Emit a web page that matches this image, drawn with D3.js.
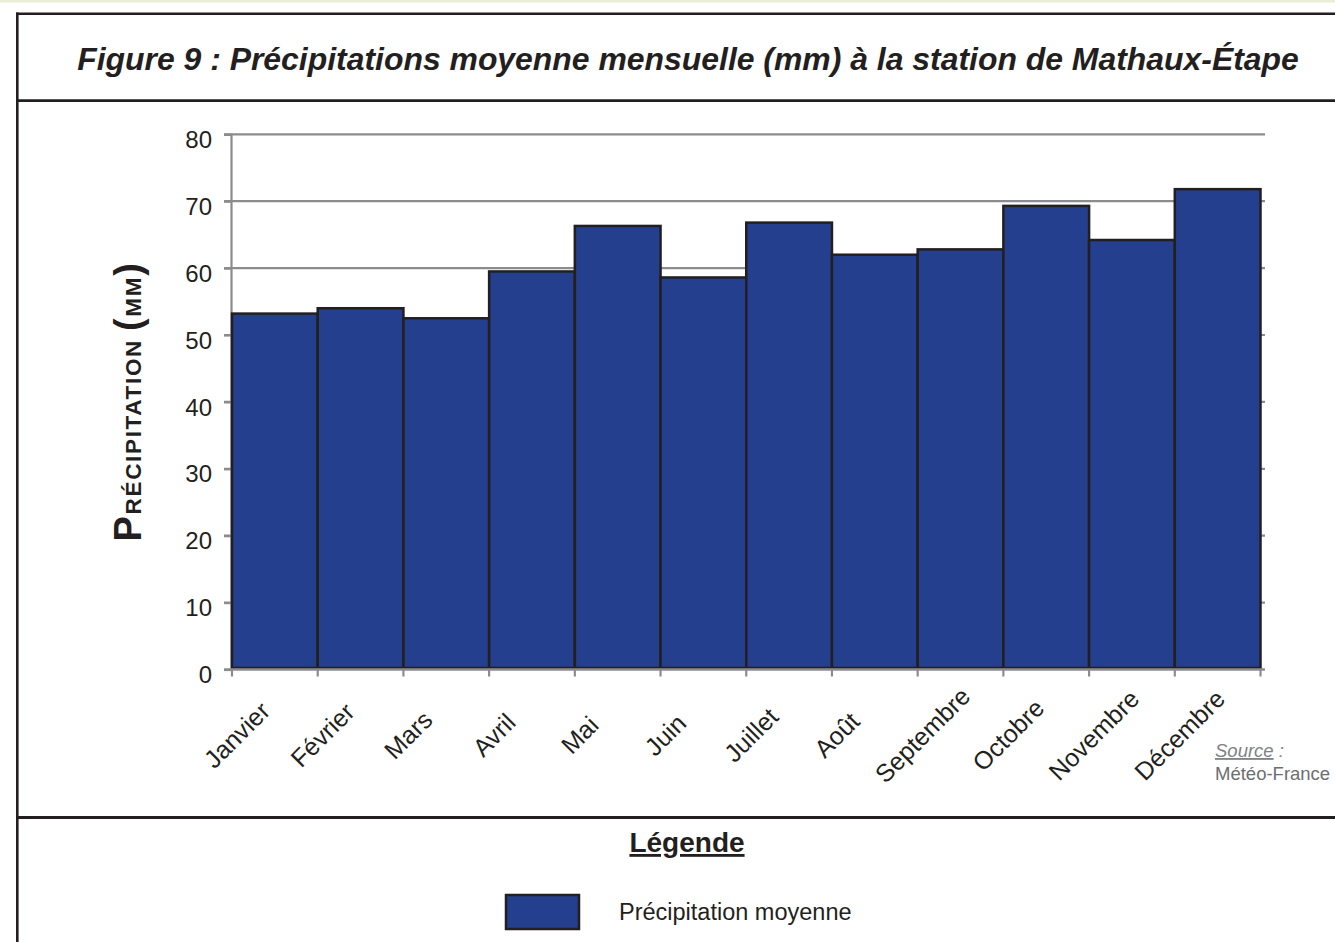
<!DOCTYPE html>
<html>
<head>
<meta charset="utf-8">
<script src="https://cdn.jsdelivr.net/npm/d3@7"></script>
<style>
  html, body { margin: 0; padding: 0; background: #ffffff; }
  svg { display: block; }
  text { font-family: "Liberation Sans", Arial, Helvetica, sans-serif; }
</style>
</head>
<body>
<svg id="chart" width="1335" height="942"></svg>
<script>
// ---- Data ----
const months = ["Janvier", "Février", "Mars", "Avril", "Mai", "Juin", "Juillet", "Août", "Septembre", "Octobre", "Novembre", "Décembre"];
const precipitation = [53.2, 54.0, 52.5, 59.5, 66.3, 58.6, 66.8, 62.0, 62.8, 69.3, 64.2, 71.8];
const yTicks = [0, 10, 20, 30, 40, 50, 60, 70, 80];
const titleText = "Figure 9 : Précipitations moyenne mensuelle (mm) à la station de Mathaux-Étape";
const legendLabels = ["Précipitation moyenne"];

const BAR_FILL = "#243f8e";
const DARK = "#231f20";
const GRID = "#8c8c8e";

const svg = d3.select("#chart");

// ---- Frame ----
svg.append("rect").attr("x", 0).attr("y", 0).attr("width", 1335).attr("height", 2.5).attr("fill", "#eaedd8");
svg.append("line").attr("x1", 16).attr("x2", 1335).attr("y1", 13.8).attr("y2", 13.8).attr("stroke", DARK).attr("stroke-width", 2.6);
svg.append("line").attr("x1", 17.3).attr("x2", 17.3).attr("y1", 12.5).attr("y2", 942).attr("stroke", DARK).attr("stroke-width", 2.6);
svg.append("line").attr("x1", 16).attr("x2", 1335).attr("y1", 100.6).attr("y2", 100.6).attr("stroke", DARK).attr("stroke-width", 2.6);
svg.append("line").attr("x1", 16).attr("x2", 1335).attr("y1", 817.5).attr("y2", 817.5).attr("stroke", DARK).attr("stroke-width", 3);

// ---- Title ----
const title = svg.append("text")
  .attr("x", 688).attr("y", 70)
  .attr("text-anchor", "middle")
  .style("fill", DARK)
  .style("font-weight", "bold").style("font-style", "italic")
  .style("font-size", "30px")
  .text(titleText);
{
  const len = title.node().getComputedTextLength();
  title.style("font-size", (30 * 1222 / len) + "px");
}

// ---- Scales ----
const x = d3.scaleBand().domain(months).range([232, 1260.5]).padding(0);
const y = d3.scaleLinear().domain([0, 80]).range([669.5, 134.3]);

// ---- Gridlines ----
svg.append("g").selectAll("line").data(yTicks.filter(d => d > 0)).join("line")
  .attr("x1", 224).attr("x2", 1265)
  .attr("y1", d => y(d)).attr("y2", d => y(d))
  .attr("stroke", GRID).attr("stroke-width", 2.2);

// ---- Y axis ----
const yAxis = svg.append("g").attr("transform", "translate(231,0)")
  .call(d3.axisLeft(y).tickValues(yTicks).tickSize(7).tickPadding(12).tickFormat(d3.format("d")));
yAxis.select(".domain").attr("stroke", GRID).attr("stroke-width", 2.2);
yAxis.selectAll(".tick line").attr("stroke", GRID).attr("stroke-width", 2.2);
yAxis.selectAll(".tick text")
  .attr("dy", "0.36em").attr("y", 4.5)
  .style("font-size", "24px").style("font-family", "'Liberation Sans', Arial, sans-serif")
  .style("fill", DARK);

// ---- Bars ----
svg.append("g").selectAll("rect").data(precipitation).join("rect")
  .attr("x", (d, i) => x(months[i]))
  .attr("y", d => y(d))
  .attr("width", x.bandwidth())
  .attr("height", d => y(0) - 1.5 - y(d))
  .attr("fill", BAR_FILL)
  .attr("stroke", DARK).attr("stroke-width", 2.5);

// ---- X axis ----
const xTickPos = months.map(m => x(m)).concat([x(months[months.length - 1]) + x.bandwidth()]);
svg.append("line").attr("x1", 224).attr("x2", 1265).attr("y1", y(0)).attr("y2", y(0))
  .attr("stroke", GRID).attr("stroke-width", 2.6);
svg.append("g").selectAll("line").data(xTickPos).join("line")
  .attr("x1", d => d).attr("x2", d => d)
  .attr("y1", y(0)).attr("y2", y(0) + 7)
  .attr("stroke", GRID).attr("stroke-width", 2.2);
svg.append("g").selectAll("text").data(months).join("text")
  .attr("transform", d => `translate(${x(d) + x.bandwidth() / 2 - 38},735) rotate(-45)`)
  .attr("text-anchor", "middle")
  .attr("dy", "0.35em")
  .style("fill", DARK)
  .style("font-size", "25px")
  .text(d => d);

// ---- Y axis title (small caps) ----
const yTitle = svg.append("text")
  .attr("transform", "translate(140.5,401.5) rotate(-90)")
  .attr("text-anchor", "middle")
  .style("fill", DARK)
  .style("font-weight", "bold");
const parts = [["P", 38], ["RÉCIPITATION ", 22.5], ["(", 38], ["MM", 22.5], [")", 38]];
parts.forEach(([t, s]) => yTitle.append("tspan").style("font-size", s + "px").text(t));
{
  const len = yTitle.node().getComputedTextLength();
  const nChars = parts.reduce((a, p) => a + p[0].length, 0);
  yTitle.style("letter-spacing", ((280 - len) / nChars) + "px");
}

// ---- Source ----
const src = svg.append("text").attr("x", 1215).attr("y", 757)
  .style("font-size", "18.5px").style("font-style", "italic");
src.append("tspan").style("fill", "#808285").style("text-decoration", "underline").text("Source");
src.append("tspan").style("fill", "#808285").text(" :");
svg.append("text").attr("x", 1215).attr("y", 780)
  .style("font-size", "18.5px").style("fill", "#6d6e71").text("Météo-France");

// ---- Legend ----
svg.append("text").attr("x", 687).attr("y", 852)
  .attr("text-anchor", "middle")
  .style("fill", DARK)
  .style("font-size", "28px").style("font-weight", "bold")
  .style("text-decoration", "underline")
  .text("Légende");
const lg = svg.append("g").selectAll("g").data(legendLabels).join("g");
lg.append("rect").attr("x", 506).attr("y", 895).attr("width", 73).attr("height", 34)
  .attr("fill", BAR_FILL).attr("stroke", DARK).attr("stroke-width", 2.5);
lg.append("text").attr("x", 619).attr("y", 920)
  .style("fill", DARK)
  .style("font-size", "23.5px").text(d => d);
</script>
</body>
</html>
